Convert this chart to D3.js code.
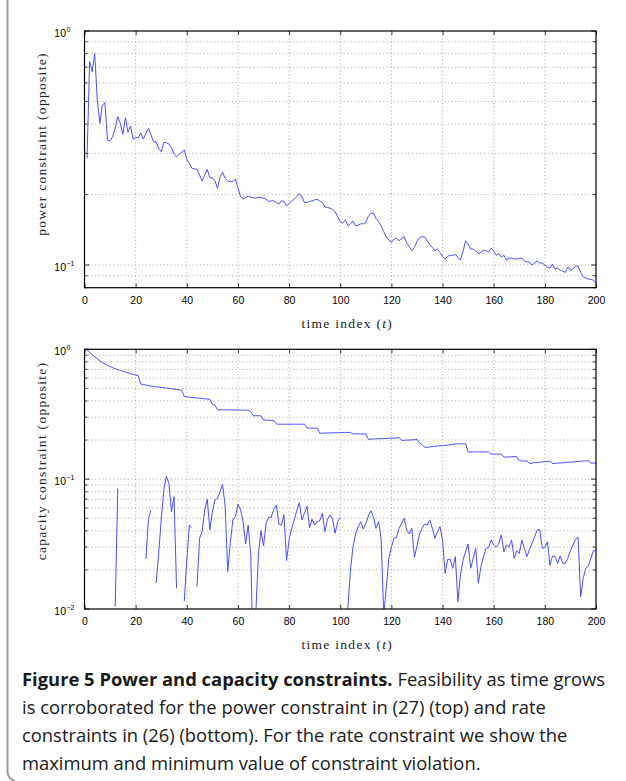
<!DOCTYPE html>
<html><head><meta charset="utf-8">
<script src="https://cdn.jsdelivr.net/npm/d3@7"></script>
<style>body{margin:0;background:#fff}svg{display:block}</style>
</head><body>
<svg id="c" width="626" height="781"></svg>
<script>
// ---------------- DATA ----------------
const timeIndex = d3.range(1, 201);
const xTicks = [0,20,40,60,80,100,120,140,160,180,200];

const powerConstraint = [
0.286,0.74,0.67,0.80,0.507,0.403,0.483,0.494,0.340,0.340,
0.353,0.384,0.430,0.403,0.362,0.426,0.369,0.393,0.345,0.351,
0.349,0.367,0.345,0.365,0.384,0.360,0.336,0.336,0.315,0.305,
0.334,0.333,0.329,0.317,0.297,0.290,0.297,0.303,0.310,0.283,
0.272,0.259,0.257,0.257,0.242,0.229,0.242,0.256,0.236,0.236,
0.229,0.213,0.238,0.249,0.235,0.229,0.227,0.227,0.233,0.214,
0.196,0.192,0.194,0.197,0.195,0.194,0.193,0.195,0.194,0.193,
0.191,0.187,0.188,0.188,0.185,0.182,0.188,0.187,0.179,0.183,
0.188,0.191,0.196,0.202,0.196,0.185,0.185,0.187,0.188,0.190,
0.191,0.188,0.185,0.177,0.176,0.175,0.173,0.169,0.161,0.153,
0.151,0.156,0.147,0.150,0.154,0.147,0.148,0.150,0.150,0.152,
0.162,0.166,0.167,0.158,0.153,0.147,0.139,0.132,0.128,0.125,
0.129,0.130,0.127,0.130,0.132,0.124,0.120,0.115,0.119,0.126,
0.131,0.132,0.132,0.127,0.122,0.119,0.115,0.117,0.113,0.109,
0.106,0.109,0.110,0.110,0.111,0.108,0.105,0.114,0.127,0.123,
0.117,0.117,0.115,0.112,0.113,0.116,0.115,0.114,0.118,0.115,
0.110,0.112,0.108,0.110,0.105,0.107,0.107,0.106,0.106,0.107,
0.107,0.104,0.103,0.103,0.100,0.102,0.104,0.102,0.102,0.100,
0.098,0.097,0.101,0.096,0.097,0.095,0.094,0.093,0.098,0.095,
0.096,0.099,0.099,0.093,0.089,0.088,0.087,0.087,0.086,0.084
];

const capacityMax = [
0.990,0.950,0.910,0.875,0.845,0.815,0.790,0.770,0.752,0.737,
0.722,0.710,0.698,0.687,0.677,0.667,0.658,0.650,0.642,0.634,
0.626,0.540,0.535,0.530,0.525,0.521,0.518,0.515,0.512,0.509,
0.506,0.503,0.500,0.497,0.494,0.491,0.488,0.485,0.435,0.430,
0.428,0.426,0.424,0.422,0.420,0.418,0.416,0.414,0.412,0.377,
0.372,0.342,0.342,0.342,0.342,0.342,0.341,0.341,0.341,0.341,
0.341,0.340,0.340,0.340,0.330,0.308,0.308,0.308,0.307,0.285,
0.285,0.284,0.284,0.283,0.266,0.265,0.265,0.265,0.265,0.265,
0.265,0.265,0.265,0.265,0.265,0.265,0.248,0.247,0.247,0.247,
0.247,0.226,0.226,0.226,0.227,0.227,0.227,0.228,0.228,0.228,
0.229,0.229,0.229,0.229,0.223,0.223,0.223,0.223,0.223,0.223,
0.203,0.203,0.204,0.204,0.205,0.205,0.205,0.206,0.206,0.207,
0.207,0.208,0.209,0.199,0.199,0.200,0.200,0.201,0.201,0.203,
0.190,0.185,0.176,0.176,0.177,0.178,0.179,0.180,0.181,0.182,
0.182,0.183,0.184,0.185,0.186,0.187,0.187,0.187,0.187,0.162,
0.162,0.162,0.162,0.162,0.162,0.162,0.162,0.162,0.156,0.156,
0.156,0.156,0.156,0.148,0.148,0.148,0.149,0.149,0.149,0.139,
0.138,0.138,0.138,0.132,0.133,0.134,0.134,0.135,0.136,0.136,
0.137,0.138,0.132,0.132,0.133,0.133,0.134,0.134,0.135,0.135,
0.136,0.136,0.137,0.137,0.138,0.138,0.139,0.133,0.133,0.133
];

const capacityMin = [
null,null,null,null,null,null,null,null,null,null,
null,0.0104,0.085,null,null,null,null,null,null,null,
null,null,null,0.0243,0.0499,0.0578,null,0.0158,0.0268,0.0485,
0.0825,0.1057,0.0929,0.0561,0.0732,0.0144,null,null,0.0114,0.0238,
0.0443,0.0423,null,0.0149,0.035,0.0394,0.0578,0.0703,0.0406,0.0561,
0.069,0.0711,0.080,0.0912,0.0614,0.0194,0.032,0.0485,0.0514,0.064,
0.0586,0.047,0.0317,0.0443,0.026,0.004,0.0095,0.0261,0.0401,0.0306,
0.0457,0.0508,0.0508,0.0586,0.0632,0.0451,0.0443,0.053,0.0236,0.034,
0.0418,0.0485,0.0572,0.0659,0.0485,0.0546,0.0621,0.0423,0.0491,0.0443,
0.047,0.0479,0.0546,0.0394,0.0491,0.053,0.0491,0.0383,0.047,0.0508,
null,0.005,0.0105,0.020,0.0302,0.0378,0.043,0.047,0.0413,0.0457,
0.052,0.0572,0.0508,0.0418,0.047,0.0344,0.009,0.0145,0.0246,0.0299,
0.035,0.0357,0.0418,0.0457,0.0499,0.0406,0.0378,0.0418,0.025,0.0306,
0.0378,0.0418,0.0452,0.0443,0.0485,0.0418,0.035,0.0394,0.0431,0.034,
0.0188,0.0241,0.0241,0.0206,0.0253,0.0114,0.0183,0.0238,0.0276,0.0316,
0.0206,0.0246,0.0293,0.0158,0.0212,0.0253,0.0293,0.0299,0.034,0.0311,
0.0299,0.032,0.0372,0.0276,0.0311,0.0299,0.034,0.0246,0.0281,0.0268,
0.034,0.0293,0.0253,0.0288,0.032,0.036,0.0406,0.041,0.0293,0.0299,
0.033,0.0217,0.0256,0.0253,0.0225,0.0256,0.0225,0.0225,0.0246,0.0281,
0.0311,0.0344,0.0357,0.0124,0.0172,0.0206,0.0214,0.0246,0.0281,0.0281
];

const xLabel = "time index";
const topYLabel = "power constraint (opposite)";
const bottomYLabel = "capacity constraint (opposite)";
const captionBold = "Figure 5 Power and capacity constraints.";
const captionLines = [
  " Feasibility as time grows",
  "is corroborated for the power constraint in (27) (top) and rate",
  "constraints in (26) (bottom). For the rate constraint we show the",
  "maximum and minimum value of constraint violation."
];

// ---------------- DRAW ----------------
const svg = d3.select('#c');
const LINE = '#4d4dff';
const GRID = '#9a9a9a';
const left = 84.5, right = 596;
const x = d3.scaleLinear().domain([0, 200]).range([left, right]);
const SERIF = 'Liberation Serif, Times New Roman, serif';
const SANS = 'Liberation Sans, Arial, sans-serif';

// frame border of figure
svg.append('path')
  .attr('d', 'M7.5,0 V771 Q7.5,779 15,781')
  .attr('fill', 'none').attr('stroke', '#9b9b9b').attr('stroke-width', 2);

function panel(opt) {
  const y = d3.scaleLog().domain(opt.domain).range([opt.bottom, opt.top]);
  const g = svg.append('g');
  const clipId = 'clip' + opt.id;
  svg.append('clipPath').attr('id', clipId).append('rect')
    .attr('x', left).attr('y', opt.top).attr('width', right - left).attr('height', opt.bottom - opt.top);

  const yt = y.ticks();
  // grid
  g.append('g').selectAll('line').data(yt.filter(v => v > opt.domain[0] + 1e-12 && v < opt.domain[1] - 1e-12))
    .join('line').attr('x1', left).attr('x2', right).attr('y1', d => y(d)).attr('y2', d => y(d))
    .attr('stroke', GRID).attr('stroke-width', 0.9).attr('stroke-dasharray', '1,2.6');
  g.append('g').selectAll('line').data(xTicks.slice(1, -1))
    .join('line').attr('y1', opt.top).attr('y2', opt.bottom).attr('x1', d => x(d)).attr('x2', d => x(d))
    .attr('stroke', GRID).attr('stroke-width', 0.9).attr('stroke-dasharray', '1,2.6');

  // data lines
  const line = d3.line().defined(d => d[1] != null).x(d => x(d[0])).y(d => y(d[1]));
  opt.series.forEach(s => {
    g.append('path').datum(timeIndex.map((t, i) => [t, s[i]]))
      .attr('clip-path', `url(#${clipId})`)
      .attr('d', line).attr('fill', 'none').attr('stroke', LINE).attr('stroke-width', 1)
      .attr('stroke-linejoin', 'round');
  });

  // ticks (inward) via axes
  const ax = d3.axisBottom(x).tickValues(xTicks).tickSize(-4).tickPadding(9).tickFormat(d3.format('d'));
  const axG = g.append('g').attr('transform', `translate(0,${opt.bottom})`).call(ax);
  axG.select('.domain').remove();
  axG.selectAll('line').attr('stroke', '#000').attr('stroke-width', 0.8);
  axG.selectAll('text').attr('font-family', SANS).attr('font-size', 10.5).attr('fill', '#000');
  const axT = g.append('g').attr('transform', `translate(0,${opt.top})`).call(d3.axisTop(x).tickValues(xTicks).tickSize(-4).tickFormat(''));
  axT.select('.domain').remove();
  axT.selectAll('line').attr('stroke', '#000').attr('stroke-width', 0.8);

  const isMajor = v => Math.abs(Math.log10(v) - Math.round(Math.log10(v))) < 1e-9;
  [[left, 1], [right, -1]].forEach(([px, dir]) => {
    g.append('g').selectAll('line').data(yt).join('line')
      .attr('x1', px).attr('x2', d => px + dir * (isMajor(d) ? 5 : 3))
      .attr('y1', d => y(d)).attr('y2', d => y(d))
      .attr('stroke', '#000').attr('stroke-width', 0.8);
  });

  // y labels with superscripts
  g.append('g').selectAll('text').data(yt.filter(isMajor)).join('text')
    .attr('x', 66).attr('y', d => y(d) + 5.5)
    .attr('text-anchor', 'end')
    .attr('font-family', SANS).attr('font-size', 10.5).text('10');
  g.append('g').selectAll('text').data(yt.filter(isMajor)).join('text')
    .attr('x', 66.5).attr('y', d => y(d) + 0.5)
    .attr('font-family', SANS).attr('font-size', 7)
    .text(d => { const e = Math.round(Math.log10(d)); return e < 0 ? '\u2212' + (-e) : String(e); });

  // frame
  g.append('rect').attr('x', left).attr('y', opt.top).attr('width', right - left).attr('height', opt.bottom - opt.top)
    .attr('fill', 'none').attr('stroke', '#000').attr('stroke-width', 1.2);

  // x title
  const xt = g.append('text').attr('x', (left + right) / 2 + 7).attr('y', opt.bottom + 40)
    .attr('text-anchor', 'middle')
    .attr('font-family', SERIF).attr('font-size', 13.5)
    .attr('letter-spacing', 1.3).attr('fill', '#222');
  xt.append('tspan').text(xLabel + ' (');
  xt.append('tspan').attr('font-style', 'italic').text('t');
  xt.append('tspan').text(')');

  // y title
  g.append('text').attr('transform', `translate(46,${opt.ylabelY}) rotate(-90)`)
    .attr('text-anchor', 'middle')
    .attr('font-family', SERIF).attr('font-size', 13.5)
    .attr('letter-spacing', 1.3).attr('fill', '#222')
    .text(opt.ylabel);
}

panel({ id: 'a', top: 31, bottom: 287.7, domain: [0.08, 1], series: [powerConstraint], ylabel: topYLabel, ylabelY: 144 });
panel({ id: 'b', top: 349.3, bottom: 609, domain: [0.01, 1], series: [capacityMax, capacityMin], ylabel: bottomYLabel, ylabelY: 461 });

// caption
const cap = svg.append('g').attr('font-family', 'Open Sans, Noto Sans, sans-serif').attr('fill', '#1a1a1a');
const baselines = [686, 714, 742, 770];
let fs = 19;
// fit regular-weight size using line 3 width
const probe = cap.append('text').attr('font-size', fs).text(captionLines[2]);
fs = fs * 546 / probe.node().getComputedTextLength();
probe.remove();
const l1 = cap.append('text').attr('x', 22).attr('y', baselines[0]).attr('font-size', fs);
l1.append('tspan').attr('font-weight', 'bold').text(captionBold);
l1.append('tspan').text(captionLines[0]);
const w1 = l1.node().getComputedTextLength();
if (w1 > 586) l1.attr('textLength', 586).attr('lengthAdjust', 'spacingAndGlyphs');
for (let i = 1; i < 4; i++) {
  cap.append('text').attr('x', 22).attr('y', baselines[i]).attr('font-size', fs).text(captionLines[i]);
}
</script>
</body></html>
